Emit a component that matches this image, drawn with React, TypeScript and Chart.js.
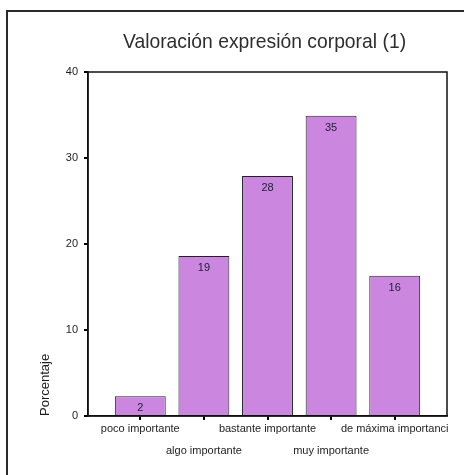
import React, { useEffect, useRef } from 'react';
import { Chart, registerables } from 'chart.js';

Chart.register(...registerables);

// Survey categories and their share of answers (%)
const categories = [
  'poco importante',
  'algo importante',
  'bastante importante',
  'muy importante',
  'de máxima importanci',
];
const percentages = [2.3, 18.6, 27.9, 34.9, 16.3];
const yTickValues = [0, 10, 20, 30, 40];
const chartTitle = 'Valoración expresión corporal (1)';
const yAxisTitle = 'Porcentaje';

const FONT = '"Liberation Sans", Arial, Helvetica, sans-serif';
const BAR_FILL = '#CB87E0';
const INK = '#1e1e1e';

// White page with the outer frame lines (left and top edges)
const framePlugin = {
  id: 'outerFrame',
  beforeDraw(chart: any) {
    const { ctx, width, height } = chart;
    ctx.save();
    ctx.fillStyle = '#ffffff';
    ctx.fillRect(0, 0, width, height);
    ctx.fillStyle = '#2a2a2a';
    ctx.fillRect(6, 10, 2, height - 10);
    ctx.fillRect(6, 10, width - 6, 2);
    ctx.restore();
  },
};

// Slightly condensed heading, centred over the plotting area
const headingPlugin = {
  id: 'heading',
  afterDraw(chart: any) {
    const { ctx, chartArea } = chart;
    const cx = (chartArea.left + chartArea.right) / 2 - 3;
    ctx.save();
    ctx.translate(cx, 48);
    ctx.scale(0.92, 1);
    ctx.font = `21px ${FONT}`;
    ctx.fillStyle = '#2e2e2e';
    ctx.textAlign = 'center';
    ctx.textBaseline = 'alphabetic';
    ctx.fillText(chartTitle, 0, 0);
    ctx.restore();
  },
};

// Box around the plotting area
const plotBoxPlugin = {
  id: 'plotBox',
  afterDatasetsDraw(chart: any) {
    const { ctx, chartArea } = chart;
    ctx.save();
    ctx.strokeStyle = '#111';
    ctx.lineWidth = 1.5;
    ctx.strokeRect(chartArea.left, chartArea.top, chartArea.right - chartArea.left, chartArea.bottom - chartArea.top);
    ctx.restore();
  },
};

// Rounded value printed just inside the top of each bar
const valueLabelPlugin = {
  id: 'valueLabels',
  afterDatasetsDraw(chart: any) {
    const { ctx } = chart;
    const meta = chart.getDatasetMeta(0);
    ctx.save();
    ctx.font = `11px ${FONT}`;
    ctx.fillStyle = '#20203a';
    ctx.textAlign = 'center';
    ctx.textBaseline = 'middle';
    meta.data.forEach((bar: any, i: number) => {
      ctx.fillText(String(Math.round(percentages[i])), bar.x, bar.y + 12);
    });
    ctx.restore();
  },
};

export default function App() {
  const canvasRef = useRef<HTMLCanvasElement | null>(null);

  useEffect(() => {
    if (!canvasRef.current) return;
    const chart = new Chart(canvasRef.current, {
      type: 'bar',
      data: {
        datasets: [
          {
            data: percentages.map((v, i) => ({ x: i, y: v })),
            backgroundColor: BAR_FILL,
            borderColor: '#222',
            borderWidth: 1,
            barPercentage: 0.8,
            categoryPercentage: 1,
          },
        ],
      },
      options: {
        animation: false,
        responsive: false,
        devicePixelRatio: 1,
        layout: { padding: { left: 0, right: 17, top: 72, bottom: 0 } },
        plugins: {
          legend: { display: false },
          tooltip: { enabled: false },
          title: { display: false },
        },
        scales: {
          x: {
            type: 'linear',
            offset: false,
            min: -0.822,
            max: 4.822,
            afterBuildTicks: (scale: any) => {
              scale.ticks = categories.map((_, i) => ({ value: i }));
            },
            afterFit: (scale: any) => {
              scale.height = 59;
            },
            grid: {
              offset: false,
              drawOnChartArea: false,
              drawTicks: true,
              tickLength: 4,
              lineWidth: 2,
              color: '#000',
            },
            border: { display: true, color: '#111', width: 1.5 },
            ticks: {
              autoSkip: false,
              maxRotation: 0,
              minRotation: 0,
              padding: 3,
              color: INK,
              font: { family: FONT, size: 11, lineHeight: 1 },
              callback: (value: any) => {
                const i = Math.round(Number(value));
                const name = categories[i] ?? '';
                return i % 2 === 1 ? ['', '', name] : name;
              },
            },
          },
          y: {
            min: 0,
            max: 40,
            afterBuildTicks: (scale: any) => {
              scale.ticks = yTickValues.map((v) => ({ value: v }));
            },
            afterFit: (scale: any) => {
              scale.width = 88;
            },
            grid: {
              drawOnChartArea: false,
              drawTicks: true,
              tickLength: 4,
              lineWidth: 2,
              color: '#000',
            },
            border: { display: true, color: '#111', width: 1.5 },
            ticks: {
              padding: 6,
              color: INK,
              font: { family: FONT, size: 11 },
            },
            title: {
              display: true,
              text: yAxisTitle,
              align: 'start',
              color: INK,
              font: { family: FONT, size: 13 },
              padding: { top: 38, bottom: 0 },
            },
          },
        },
      },
      plugins: [framePlugin, headingPlugin, plotBoxPlugin, valueLabelPlugin],
    } as any);
    return () => chart.destroy();
  }, []);

  return (
    <div style={{ position: 'absolute', left: 0, top: 0, width: 464, height: 475, background: '#fff' }}>
      <canvas ref={canvasRef} width={464} height={475} style={{ display: 'block', width: 464, height: 475 }} />
    </div>
  );
}
